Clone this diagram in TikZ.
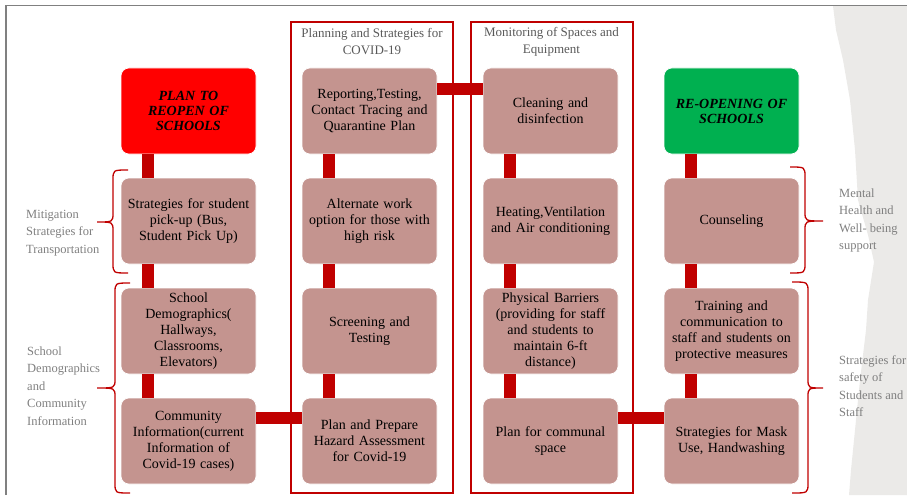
\documentclass[tikz,border=0pt]{standalone}
\usepackage{fontspec}
\setmainfont{Liberation Serif}
\usetikzlibrary{calc}
\definecolor{barred}{HTML}{C00000}
\definecolor{boxfill}{HTML}{C4948F}
\definecolor{headred}{HTML}{FF0000}
\definecolor{headgreen}{HTML}{00B050}
\definecolor{labgray}{HTML}{7F7F7F}
\definecolor{titlegray}{HTML}{595959}
\definecolor{paper}{HTML}{EBEAE8}
\definecolor{rule}{HTML}{808080}
\newcommand{\rkbrace}[6]{%
  \draw[bracestyle] (#1,#4) .. controls (#2,#4) .. (#2,#4+10) -- (#2,#5-9)
    .. controls (#2,#5) .. (#3,#5) .. controls (#2,#5) .. (#2,#5+9)
    -- (#2,#6-10) .. controls (#2,#6) .. (#1,#6);}
\begin{document}
\begin{tikzpicture}[x=1pt,y=-1pt,
  box/.style={draw=white, line width=0.6pt, fill=boxfill, rounded corners=8pt,
    minimum width=135pt, minimum height=86pt, inner sep=2pt, align=center,
    text width=131pt, font=\fontsize{14}{16}\selectfont},
  headbox/.style={box, font=\fontsize{14}{15}\selectfont\bfseries\itshape},
  bar/.style={draw=barred, line width=12pt},
  frame/.style={draw=barred, line width=2pt, minimum width=162pt, minimum height=471pt, inner sep=0pt},
  ftitle/.style={text=titlegray, align=center, font=\fontsize{13}{17}\selectfont, inner sep=0pt},
  lab/.style={text=labgray, align=left, anchor=west, inner sep=0pt, font=\fontsize{12.5}{17.5}\selectfont},
  bracestyle/.style={draw=barred, line width=1.3pt}
]
\useasboundingbox (0,0) rectangle (907,495);
% torn paper
\fill[paper] (833,6) -- (836,30) -- (843,60) -- (850,100) -- (855,150) -- (858,200)
  -- (868,235) -- (874,262) -- (868,300) -- (866,330) -- (860,380) -- (855,430)
  -- (851,470) -- (849,495) -- (907,495) -- (907,6) -- cycle;
% border
\draw[rule, line width=1.7pt] (6,495) -- (6,5.5) -- (907,5.5);
% frames
\node[frame] (f2) at (372,257.5) {};
\node[frame] (f3) at (551.5,257.5) {};
\node[ftitle] (t2) at (372,41.5) {Planning and Strategies for\\COVID-19};
\node[ftitle] (t3) at (551.5,41.5) {Monitoring of Spaces and\\Equipment};
% boxes
\node[headbox, fill=headred] (r1c1) at (188.5,111) {PLAN TO\\REOPEN OF\\SCHOOLS};
\node[box] (r2c1) at (188.5,221) {Strategies for student\\pick-up (Bus,\\Student Pick Up)};
\node[box] (r3c1) at (188.5,331) {School\\Demographics(\\Hallways,\\Classrooms,\\Elevators)};
\node[box] (r4c1) at (188.5,441) {Community\\Information(current\\Information of\\Covid-19 cases)};
\node[box] (r1c2) at (369.5,111) {Reporting,Testing,\\Contact Tracing and\\Quarantine Plan};
\node[box] (r2c2) at (369.5,221) {Alternate work\\option for those with\\high risk};
\node[box] (r3c2) at (369.5,331) {Screening and\\Testing};
\node[box] (r4c2) at (369.5,441) {Plan and Prepare\\Hazard Assessment\\for Covid-19};
\node[box] (r1c3) at (550.5,111) {Cleaning and\\disinfection};
\node[box] (r2c3) at (550.5,221) {Heating,Ventilation\\and Air conditioning};
\node[box] (r3c3) at (550.5,331) {Physical Barriers\\(providing for staff\\and students to\\maintain 6-ft\\distance)};
\node[box] (r4c3) at (550.5,441) {Plan for communal\\space};
\node[headbox, fill=headgreen] (r1c4) at (731.5,111) {RE-OPENING OF\\SCHOOLS};
\node[box] (r2c4) at (731.5,221) {Counseling};
\node[box] (r3c4) at (731.5,331) {Training and\\communication to\\staff and students on\\protective measures};
\node[box] (r4c4) at (731.5,441) {Strategies for Mask\\Use, Handwashing};
% connectors
\foreach \cx in {1,2,3,4}{
  \foreach \ra/\rb in {1/2,2/3,3/4}{
    \draw[bar] ([xshift=27pt]r\ra c\cx.south west) -- ([xshift=27pt]r\rb c\cx.north west);
  }
}
\draw[bar] ([yshift=-21pt]r1c2.north east) -- ([yshift=-21pt]r1c3.north west);
\draw[bar] ([yshift=-20.5pt]r4c1.north east) -- ([yshift=-20.5pt]r4c2.north west);
\draw[bar] ([yshift=-20.5pt]r4c3.north east) -- ([yshift=-20.5pt]r4c4.north west);
% braces
\rkbrace{128}{113}{97}{170}{222}{273}
\rkbrace{130}{115}{97}{283}{388}{493}
\rkbrace{790}{805}{823}{167}{221}{273}
\rkbrace{792}{808}{823}{282}{388}{493}
% labels
\node[lab] (l1) at (26,233) {Mitigation\\Strategies for\\Transportation};
\node[lab] (l2) at (27,386) {School\\Demographics\\and\\Community\\Information};
\node[lab] (l3) at (839,220.5) {Mental\\Health and\\Well- being\\support};
\node[lab] (l4) at (839,386) {Strategies for\\safety of\\Students and\\Staff};
\end{tikzpicture}
\end{document}
